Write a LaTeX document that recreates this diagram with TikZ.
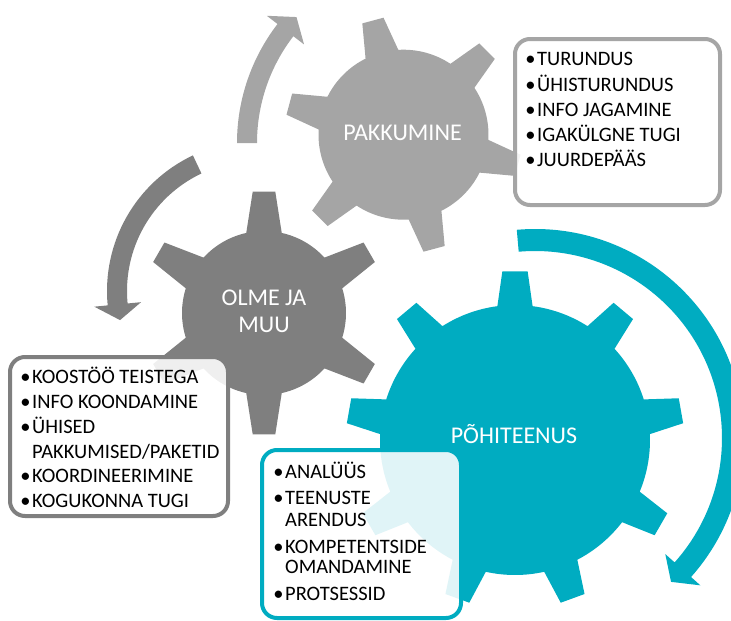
\documentclass[tikz,border=0pt]{standalone}
\usepackage{fontspec}
\setmainfont{Carlito}

\definecolor{lightgear}{RGB}{165,165,165}
\definecolor{darkgear}{RGB}{127,127,127}
\definecolor{tealgear}{RGB}{0,172,193}

\tikzset{
    listbox/.style={line width=4pt, rounded corners=15pt, fill=white, fill opacity=0.88},
    listitem/.style={anchor=base west, inner sep=0pt, font=\fontsize{20.5}{24}\selectfont},
    gearlabel/.style={text=white, inner sep=0pt, align=center, font=\fontsize{24}{27}\selectfont},
}
\newcommand{\bul}{\llap{\textbullet\hspace{1.5pt}}}

\begin{document}
\begin{tikzpicture}[x=1pt,y=1pt]
                \useasboundingbox (0,0) rectangle (731,-621);

                \coordinate (pakk) at (403.5,-134.7);
                \coordinate (olme) at (264,-313);
                \coordinate (pohi) at (515,-440);
                \coordinate (pakkarc) at (432,-143);
                \coordinate (olmearc) at (257,-291);
                \coordinate (pohiarc) at (535,-438);

                \fill[lightgear,shift={(pakk)}] (93.5:85)
                    \foreach \k in {0,...,5}{
                        -- ({105+60*\k-11.5}:85) -- ({105+60*\k-5.3}:118.7) -- ({105+60*\k+5.3}:118.7) -- ({105+60*\k+11.5}:85)
                        arc[start angle={105+60*\k+11.5},end angle={165+60*\k-11.5},radius=85]
                    } -- cycle;

                \fill[darkgear,shift={(olme)}] (77.5:82)
                    \foreach \k in {0,...,5}{
                        -- ({90+60*\k-12.5}:82) -- ({90+60*\k-5.3}:122) -- ({90+60*\k+5.3}:122) -- ({90+60*\k+12.5}:82)
                        arc[start angle={90+60*\k+12.5},end angle={150+60*\k-12.5},radius=82]
                    } -- cycle;

                \fill[tealgear,shift={(pohi)}] (82.5:135)
                    \foreach \k in {0,...,8}{
                        -- ({90+40*\k-7.5}:135) -- ({90+40*\k-4.3}:169) -- ({90+40*\k+4.3}:169) -- ({90+40*\k+7.5}:135)
                        arc[start angle={90+40*\k+7.5},end angle={130+40*\k-7.5},radius=135]
                    } -- cycle;

                \fill[lightgear,shift={(pakkarc)}] (180:195) arc[start angle=180,end angle=142.4,radius=195]
                    -- (142.4:208.5) -- (137.1:185) -- (142.4:161.5) -- (142.4:175)
                    arc[start angle=142.4,end angle=180,radius=175] -- cycle;

                \fill[darkgear,shift={(olmearc)}] (115.3:150) arc[start angle=115.3,end angle=185.5,radius=150]
                    -- (185.5:163.5) -- (192:140) -- (185.5:116.5) -- (185.5:130)
                    arc[start angle=185.5,end angle=115.3,radius=130] -- cycle;

                \fill[tealgear,shift={(pohiarc)}] (95:209) arc[start angle=95,end angle=-41.7,radius=209]
                    -- (-41.7:221.5) -- (-46.6:198) -- (-41.7:174.5) -- (-41.7:187)
                    arc[start angle=-41.7,end angle=95,radius=187] -- cycle;

                \node[gearlabel,anchor=base] (pakklabel) at (402.5,-140.6) {PAKKUMINE};
                \node[gearlabel] (olmelabel) at (264,-311.5) {OLME JA\\MUU};
                \node[gearlabel,anchor=base] (pohilabel) at (514,-443.6) {PÕHITEENUS};

                \draw[listbox,draw=lightgear] (515,-39) rectangle (720,-205);
                \node[listitem] (pakk1) at (537,-65.5) {\bul TURUNDUS};
                \node[listitem] (pakk2) at (537,-91.5) {\bul ÜHISTURUNDUS};
                \node[listitem] (pakk3) at (537,-116.5) {\bul INFO JAGAMINE};
                \node[listitem] (pakk4) at (537,-141.5) {\bul IGAKÜLGNE TUGI};
                \node[listitem] (pakk5) at (537,-166.5) {\bul JUURDEPÄÄS};

                \draw[listbox,draw=darkgear] (10,-357) rectangle (228,-516);
                \node[listitem] (olme1) at (32,-383.5) {\bul KOOSTÖÖ TEISTEGA};
                \node[listitem] (olme2) at (32,-408.5) {\bul INFO KOONDAMINE};
                \node[listitem] (olme3) at (32,-433.5) {\bul ÜHISED};
                \node[listitem] (olme4) at (32,-458.5) {PAKKUMISED/PAKETID};
                \node[listitem] (olme5) at (32,-482.5) {\bul KOORDINEERIMINE};
                \node[listitem] (olme6) at (32,-507.5) {\bul KOGUKONNA TUGI};

                \draw[listbox,draw=tealgear] (262,-450) rectangle (461,-618);
                \node[listitem] (pohi1) at (285,-478.5) {\bul ANALÜÜS};
                \node[listitem] (pohi2) at (285,-504.5) {\bul TEENUSTE};
                \node[listitem] (pohi3) at (285,-526.5) {ARENDUS};
                \node[listitem] (pohi4) at (285,-553.5) {\bul KOMPETENTSIDE};
                \node[listitem] (pohi5) at (285,-573.5) {OMANDAMINE};
                \node[listitem] (pohi6) at (285,-600.5) {\bul PROTSESSID};
\end{tikzpicture}
\end{document}
